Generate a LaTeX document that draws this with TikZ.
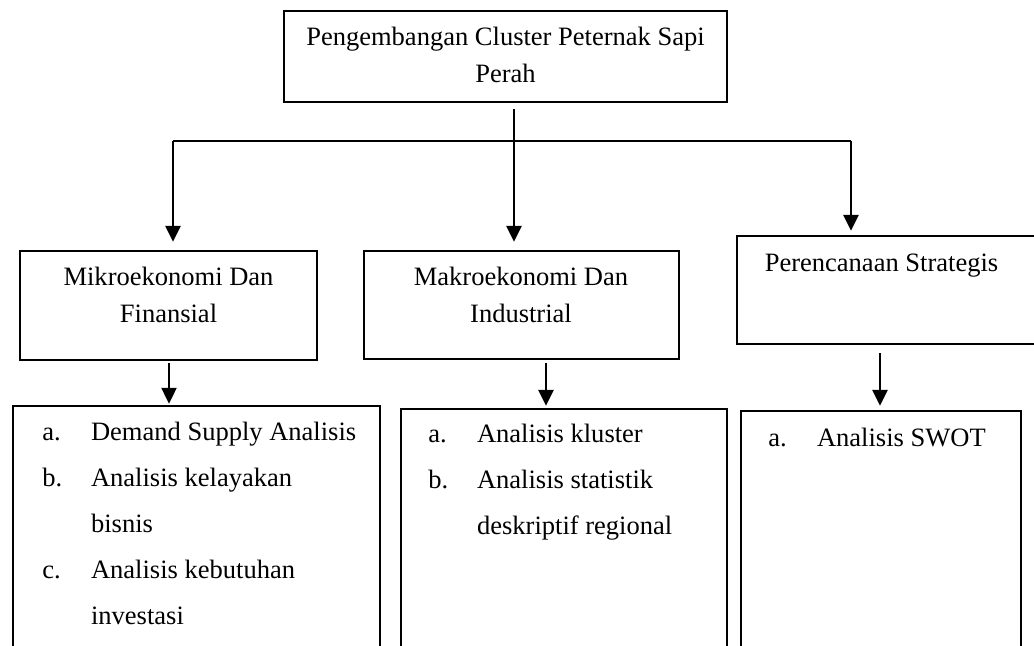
\documentclass[tikz,border=0pt]{standalone}
\usepackage{fontspec}
\setmainfont{Liberation Serif}
\usepackage{tikz}
\usetikzlibrary{arrows.meta}
\usetikzlibrary{fit}

\newcommand{\butir}[1]{\makebox[22pt][l]{#1}}
\newcommand{\lanjut}{\hspace*{22pt}}

\begin{document}
\begin{tikzpicture}[x=0.4525pt, y=-0.4525pt,
  kotak/.style={draw, line width=1.1pt, inner sep=0pt},
  teks/.style={inner sep=0pt, align=center, font=\fontsize{12pt}{16.6pt}\selectfont},
  daftar/.style={inner sep=0pt, align=left, anchor=north west, font=\fontsize{12pt}{20.8pt}\selectfont},
  panah/.style={line width=1.1pt, -{Triangle[length=7.2pt, width=6.8pt]}}]

\clip (0,0) rectangle (1034,646);

\node[kotak, fit={(284,11) (727,102)}] (K_0) {};
\node[teks] (T_0) at (505.5, 55) {Pengembangan Cluster Peternak Sapi\\Perah};

\node[kotak, fit={(20,251) (317,360)}] (K_1) {};
\node[kotak, fit={(364,251) (679,359)}] (K_2) {};
\node[kotak, fit={(737,236) (1060,344)}] (K_3) {};
\node[teks] (T_1) at (168.5, 295) {Mikroekonomi Dan\\Finansial};
\node[teks] (T_2) at (521, 295) {Makroekonomi Dan\\Industrial};
\node[teks] (T_3) at (881.5, 266) {Perencanaan Strategis};

\node[kotak, fit={(13,406) (380,700)}] (D_1) {};
\node[kotak, fit={(401,409) (727,700)}] (D_2) {};
\node[kotak, fit={(741,411) (1021,700)}] (D_3) {};
\node[daftar] (L_1) at (42, 422) {\butir{a.}Demand Supply Analisis\\
  \butir{b.}Analisis kelayakan\\
  \lanjut bisnis\\
  \butir{c.}Analisis kebutuhan\\
  \lanjut investasi};
\node[daftar] (L_2) at (428, 424) {\butir{a.}Analisis kluster\\
  \butir{b.}Analisis statistik\\
  \lanjut deskriptif regional};
\node[daftar] (L_3) at (768, 428) {\butir{a.}Analisis SWOT};

\coordinate (C_1) at (173, 141);
\coordinate (C_2) at (514, 141);
\coordinate (C_3) at (851, 141);
\coordinate (A_1) at (169, 0);
\coordinate (A_2) at (546, 0);
\coordinate (A_3) at (880, 0);

\draw[line width=1.1pt] (C_1) -- (C_3);
\draw[panah, shorten <=2.7pt, shorten >=3.6pt] (K_0.south -| C_2) -- (K_2.north -| C_2);
\draw[panah, shorten >=3.6pt] (C_1) -- (K_1.north -| C_1);
\draw[panah, shorten >=1.8pt] (C_3) -- (K_3.north -| C_3);

\draw[panah, shorten <=1pt, shorten >=0.5pt] (K_1.south -| A_1) -- (D_1.north -| A_1);
\draw[panah, shorten <=1.3pt, shorten >=0.9pt] (K_2.south -| A_2) -- (D_2.north -| A_2);
\draw[panah, shorten <=3.6pt, shorten >=1.8pt] (K_3.south -| A_3) -- (D_3.north -| A_3);

\end{tikzpicture}
\end{document}
